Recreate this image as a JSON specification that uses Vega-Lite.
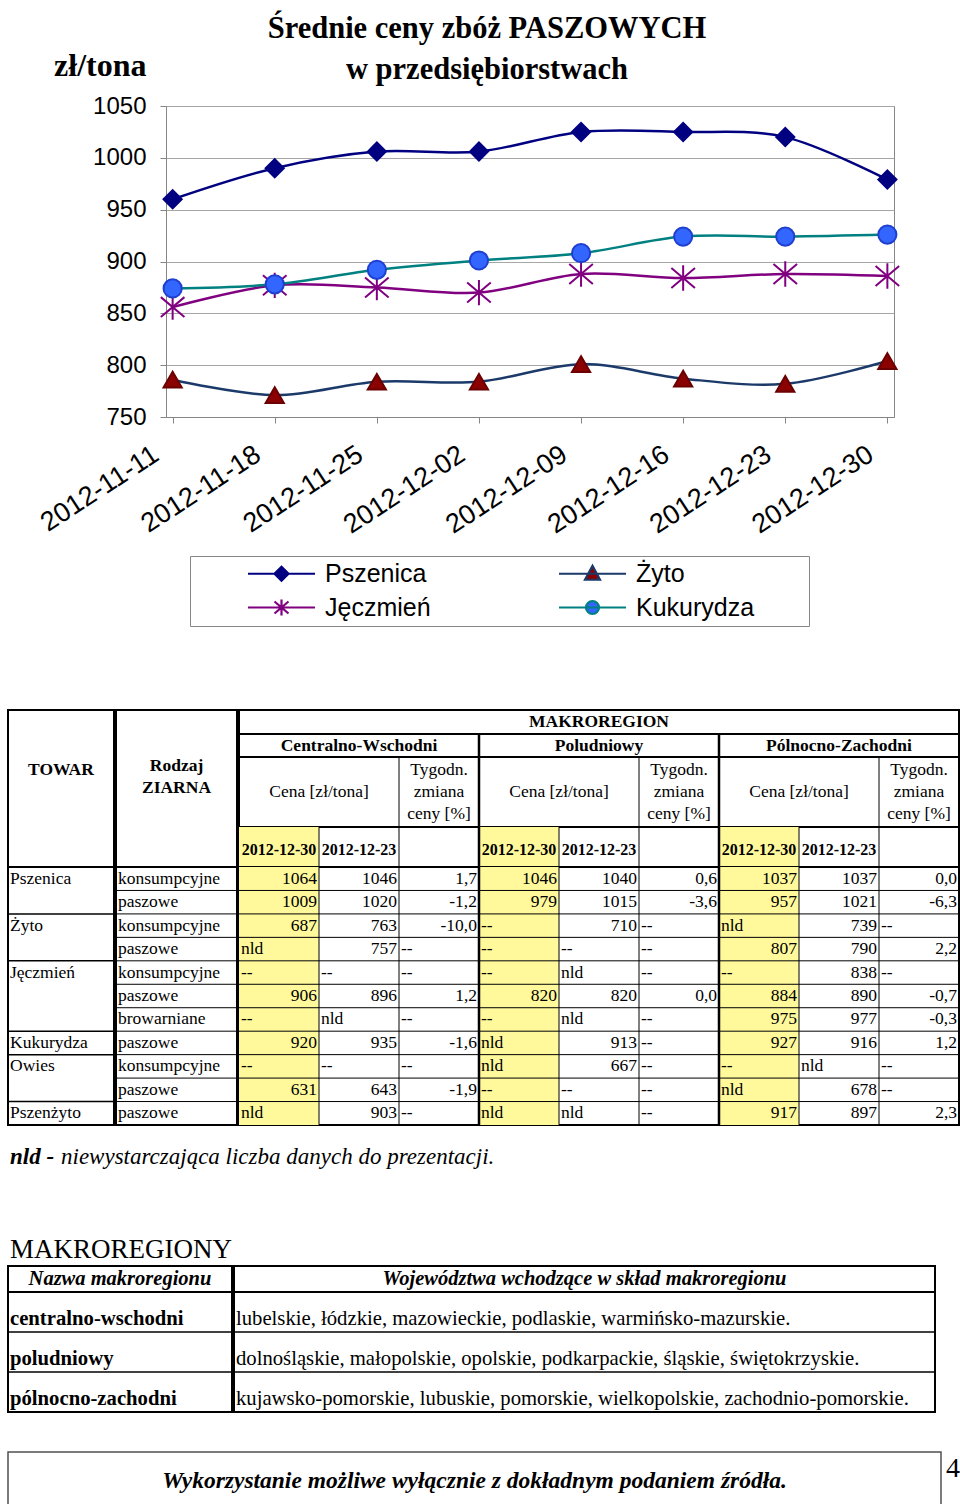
{
  "$schema": "https://vega.github.io/schema/vega-lite/v6.json",
  "background": "white",
  "padding": {"left": 6, "top": 13, "right": 0, "bottom": 0},
  "spacing": 0,
  "config": {
    "view": {"stroke": null},
    "text": {"font": "Liberation Serif", "fontSize": 17.5, "color": "black"},
    "title": {"color": "black"}
  },
  "datasets": {
    "ceny": [
      {"zboze": "Pszenica", "data": "2012-11-11", "cena": 960},
      {"zboze": "Pszenica", "data": "2012-11-18", "cena": 990},
      {"zboze": "Pszenica", "data": "2012-11-25", "cena": 1006},
      {"zboze": "Pszenica", "data": "2012-12-02", "cena": 1006},
      {"zboze": "Pszenica", "data": "2012-12-09", "cena": 1025},
      {"zboze": "Pszenica", "data": "2012-12-16", "cena": 1025},
      {"zboze": "Pszenica", "data": "2012-12-23", "cena": 1020},
      {"zboze": "Pszenica", "data": "2012-12-30", "cena": 979},
      {"zboze": "Żyto", "data": "2012-11-11", "cena": 786},
      {"zboze": "Żyto", "data": "2012-11-18", "cena": 771},
      {"zboze": "Żyto", "data": "2012-11-25", "cena": 784},
      {"zboze": "Żyto", "data": "2012-12-02", "cena": 784},
      {"zboze": "Żyto", "data": "2012-12-09", "cena": 801},
      {"zboze": "Żyto", "data": "2012-12-16", "cena": 787},
      {"zboze": "Żyto", "data": "2012-12-23", "cena": 782},
      {"zboze": "Żyto", "data": "2012-12-30", "cena": 804},
      {"zboze": "Jęczmień", "data": "2012-11-11", "cena": 856},
      {"zboze": "Jęczmień", "data": "2012-11-18", "cena": 877},
      {"zboze": "Jęczmień", "data": "2012-11-25", "cena": 875},
      {"zboze": "Jęczmień", "data": "2012-12-02", "cena": 870},
      {"zboze": "Jęczmień", "data": "2012-12-09", "cena": 888},
      {"zboze": "Jęczmień", "data": "2012-12-16", "cena": 884},
      {"zboze": "Jęczmień", "data": "2012-12-23", "cena": 888},
      {"zboze": "Jęczmień", "data": "2012-12-30", "cena": 886},
      {"zboze": "Kukurydza", "data": "2012-11-11", "cena": 874},
      {"zboze": "Kukurydza", "data": "2012-11-18", "cena": 878},
      {"zboze": "Kukurydza", "data": "2012-11-25", "cena": 892},
      {"zboze": "Kukurydza", "data": "2012-12-02", "cena": 901},
      {"zboze": "Kukurydza", "data": "2012-12-09", "cena": 908},
      {"zboze": "Kukurydza", "data": "2012-12-16", "cena": 924},
      {"zboze": "Kukurydza", "data": "2012-12-23", "cena": 924},
      {"zboze": "Kukurydza", "data": "2012-12-30", "cena": 926}
    ],
    "tabela": [
      {"lp": 1, "towar": "Pszenica", "rodzaj": "konsumpcyjne", "cw30": "1064", "cw23": "1046", "cwz": "1,7", "pd30": "1046", "pd23": "1040", "pdz": "0,6", "pz30": "1037", "pz23": "1037", "pzz": "0,0"},
      {"lp": 2, "towar": "", "rodzaj": "paszowe", "cw30": "1009", "cw23": "1020", "cwz": "-1,2", "pd30": "979", "pd23": "1015", "pdz": "-3,6", "pz30": "957", "pz23": "1021", "pzz": "-6,3"},
      {"lp": 3, "towar": "Żyto", "rodzaj": "konsumpcyjne", "cw30": "687", "cw23": "763", "cwz": "-10,0", "pd30": "--", "pd23": "710", "pdz": "--", "pz30": "nld", "pz23": "739", "pzz": "--"},
      {"lp": 4, "towar": "", "rodzaj": "paszowe", "cw30": "nld", "cw23": "757", "cwz": "--", "pd30": "--", "pd23": "--", "pdz": "--", "pz30": "807", "pz23": "790", "pzz": "2,2"},
      {"lp": 5, "towar": "Jęczmień", "rodzaj": "konsumpcyjne", "cw30": "--", "cw23": "--", "cwz": "--", "pd30": "--", "pd23": "nld", "pdz": "--", "pz30": "--", "pz23": "838", "pzz": "--"},
      {"lp": 6, "towar": "", "rodzaj": "paszowe", "cw30": "906", "cw23": "896", "cwz": "1,2", "pd30": "820", "pd23": "820", "pdz": "0,0", "pz30": "884", "pz23": "890", "pzz": "-0,7"},
      {"lp": 7, "towar": "", "rodzaj": "browarniane", "cw30": "--", "cw23": "nld", "cwz": "--", "pd30": "--", "pd23": "nld", "pdz": "--", "pz30": "975", "pz23": "977", "pzz": "-0,3"},
      {"lp": 8, "towar": "Kukurydza", "rodzaj": "paszowe", "cw30": "920", "cw23": "935", "cwz": "-1,6", "pd30": "nld", "pd23": "913", "pdz": "--", "pz30": "927", "pz23": "916", "pzz": "1,2"},
      {"lp": 9, "towar": "Owies", "rodzaj": "konsumpcyjne", "cw30": "--", "cw23": "--", "cwz": "--", "pd30": "nld", "pd23": "667", "pdz": "--", "pz30": "--", "pz23": "nld", "pzz": "--"},
      {"lp": 10, "towar": "", "rodzaj": "paszowe", "cw30": "631", "cw23": "643", "cwz": "-1,9", "pd30": "--", "pd23": "--", "pdz": "--", "pz30": "nld", "pz23": "678", "pzz": "--"},
      {"lp": 11, "towar": "Pszenżyto", "rodzaj": "paszowe", "cw30": "nld", "cw23": "903", "cwz": "--", "pd30": "nld", "pd23": "nld", "pdz": "--", "pz30": "917", "pz23": "897", "pzz": "2,3"}
    ],
    "kolumny": [
      {"kol": "cw30", "naglowek": "2012-12-30"},
      {"kol": "cw23", "naglowek": "2012-12-23"},
      {"kol": "cwz", "naglowek": ""},
      {"kol": "pd30", "naglowek": "2012-12-30"},
      {"kol": "pd23", "naglowek": "2012-12-23"},
      {"kol": "pdz", "naglowek": ""},
      {"kol": "pz30", "naglowek": "2012-12-30"},
      {"kol": "pz23", "naglowek": "2012-12-23"},
      {"kol": "pzz", "naglowek": ""}
    ],
    "regiony": [
      {"region": "Centralno-Wschodni"},
      {"region": "Poludniowy"},
      {"region": "Pólnocno-Zachodni"}
    ],
    "makro": [
      {"lp": 1, "nazwa": "centralno-wschodni", "woj": "lubelskie, łódzkie, mazowieckie, podlaskie, warmińsko-mazurskie."},
      {"lp": 2, "nazwa": "poludniowy", "woj": "dolnośląskie, małopolskie, opolskie, podkarpackie, śląskie, świętokrzyskie."},
      {"lp": 3, "nazwa": "pólnocno-zachodni", "woj": "kujawsko-pomorskie, lubuskie, pomorskie, wielkopolskie, zachodnio-pomorskie."}
    ]
  },
  "vconcat": [
    {
      "hconcat": [
        {"width": 27, "height": 10, "data": {"values": [{"a": 1}]}, "mark": {"type": "text", "text": ""}, "encoding": {}},
        {
          "width": 728,
          "height": 311,
          "view": {"stroke": "#868686", "strokeWidth": 1},
          "data": {"name": "ceny"},
          "title": {"text": ["Średnie ceny zbóż PASZOWYCH", "w przedsiębiorstwach"], "font": "Liberation Serif", "fontSize": 30.5, "fontWeight": "bold", "color": "black", "anchor": "middle", "dx": -43, "dy": 52, "offset": 16, "lineHeight": 41},
          "encoding": {
            "x": {"field": "data", "type": "ordinal", "scale": {"type": "point", "padding": 0.065},
              "axis": {"title": null, "labelAngle": -33, "labelFont": "Liberation Sans", "labelFontSize": 27, "labelColor": "black", "labelPadding": 18, "labelOffset": -24, "tickSize": 6, "tickColor": "#868686", "domainColor": "#868686", "grid": false, "labelOverlap": false}},
            "y": {"field": "cena", "type": "quantitative", "scale": {"domain": [750, 1050], "nice": false, "zero": false},
              "axis": {"values": [750, 800, 850, 900, 950, 1000, 1050], "format": "d", "title": "zł/tona", "titleAngle": 0, "titleAlign": "right", "titleBaseline": "alphabetic", "titleX": -20, "titleY": -31, "titleFont": "Liberation Serif", "titleFontSize": 32, "titleFontWeight": "bold", "titleColor": "black", "labelFont": "Liberation Sans", "labelFontSize": 24, "labelColor": "black", "labelPadding": 14, "tickSize": 6, "tickColor": "#868686", "domainColor": "#868686", "gridColor": "#a6a6a6"}}
          },
          "layer": [
            {
              "mark": {"type": "line", "interpolate": "cardinal", "strokeWidth": 2.5},
              "encoding": {
                "color": {"field": "zboze", "type": "nominal",
                  "scale": {"domain": ["Pszenica", "Żyto", "Jęczmień", "Kukurydza"], "range": ["#000080", "#1b3a6a", "#800080", "#008080"]},
                  "legend": {
                    "orient": "none", "legendX": 182, "legendY": 450, "direction": "horizontal",
                    "title": "MM", "titleOrient": "right", "titleFont": "Liberation Sans", "titleFontSize": 25, "titleColor": "transparent", "titlePadding": 8,
                    "columns": 2, "columnPadding": 75, "rowPadding": 8,
                    "labelFont": "Liberation Sans", "labelFontSize": 25, "labelColor": "black", "labelOffset": 105, "labelLimit": 400,
                    "symbolSize": 400, "symbolStrokeWidth": 2.2, "symbolType": "M4.05,0L10.75,0",
                    "strokeColor": "#868686", "padding": 5,
                    "encode": {
                      "symbols": {
                        "update": {
                          "shape": {"signal": "datum.value === 'Pszenica' ? 'M4.05,0L10.75,0M7.4,-0.7L8.1,0L7.4,0.7L6.7,0Z' : datum.value === 'Żyto' ? 'M4.05,0L10.75,0M7.4,-0.8L8.15,0.6L6.65,0.6Z' : datum.value === 'Jęczmień' ? 'M4.05,0L10.75,0M7.4,-0.8L7.4,0.8M6.7,-0.6L8.1,0.6M6.7,0.6L8.1,-0.6' : 'M4.05,0L10.75,0M8.05,0A0.65,0.65,0,1,1,6.75,0A0.65,0.65,0,1,1,8.05,0Z'"},
                          "fill": {"signal": "datum.value === 'Pszenica' ? '#000080' : datum.value === 'Żyto' ? '#8b0000' : datum.value === 'Jęczmień' ? 'transparent' : '#3366ff'"}
                        }
                      }
                    }
                  }
                }
              }
            },
            {
              "mark": {"type": "point", "opacity": 1, "size": 330, "strokeWidth": 2},
              "encoding": {
                "shape": {"field": "zboze", "type": "nominal", "legend": null,
                  "scale": {"range": ["M0,-1.4L0,1.4M-1.3,-1.1L1.3,1.1M-1.3,1.1L1.3,-1.1", "circle", "diamond", "triangle-up"]}},
                "fill": {"field": "zboze", "type": "nominal", "legend": null,
                  "scale": {"range": ["transparent", "#3366ff", "#000080", "#8b0000"]}},
                "stroke": {"field": "zboze", "type": "nominal", "legend": null,
                  "scale": {"range": ["#800080", "#1f3fd0", "#000080", "#6b0000"]}}
              }
            }
          ]
        }
      ],
      "spacing": 0
    },
    {"width": 10, "height": 170, "data": {"values": [{"a": 1}]}, "mark": {"type": "text", "text": ""}, "encoding": {}},
    {
      "hconcat": [
        {
          "vconcat": [
            {"width": 106, "height": 157, "view": {"stroke": "black", "strokeWidth": 2}, "data": {"values": [{"t": "TOWAR"}]},
              "mark": {"type": "text", "fontWeight": "bold", "baseline": "middle", "dy": -19}, "encoding": {"text": {"field": "t"}}},
            {"width": 106, "height": 258, "view": {"stroke": "black", "strokeWidth": 2}, "data": {"name": "tabela"},
              "layer": [
                {"transform": [{"filter": "datum.towar !== '' && datum.lp > 1"}], "mark": {"type": "rule", "color": "black", "strokeWidth": 1.5},
                  "encoding": {"y": {"field": "lp", "type": "ordinal", "bandPosition": 0, "axis": null, "scale": {"type": "band", "paddingInner": 0, "paddingOuter": 0}}}},
                {"mark": {"type": "text", "align": "left", "baseline": "middle", "dx": 2},
                  "encoding": {"x": {"value": 0}, "y": {"field": "lp", "type": "ordinal", "bandPosition": 0.5, "axis": null, "scale": {"type": "band", "paddingInner": 0, "paddingOuter": 0}}, "text": {"field": "towar"}}}
              ]}
          ],
          "spacing": 0,
          "bounds": "flush"
        },
        {
          "vconcat": [
            {"width": 121, "height": 157, "view": {"stroke": "black", "strokeWidth": 2}, "data": {"values": [{"t": "Rodzaj\nZIARNA"}]},
              "mark": {"type": "text", "fontWeight": "bold", "baseline": "middle", "lineBreak": "\n", "lineHeight": 22, "dy": -23}, "encoding": {"text": {"field": "t"}}},
            {"width": 121, "height": 258, "view": {"stroke": "black", "strokeWidth": 2}, "data": {"name": "tabela"},
              "layer": [
                {"transform": [{"filter": "datum.lp > 1"}], "mark": {"type": "rule", "color": "black", "strokeWidth": 1},
                  "encoding": {"y": {"field": "lp", "type": "ordinal", "bandPosition": 0, "axis": null, "scale": {"type": "band", "paddingInner": 0, "paddingOuter": 0}}}},
                {"mark": {"type": "text", "align": "left", "baseline": "middle", "dx": 2},
                  "encoding": {"x": {"value": 0}, "y": {"field": "lp", "type": "ordinal", "bandPosition": 0.5, "axis": null, "scale": {"type": "band", "paddingInner": 0, "paddingOuter": 0}}, "text": {"field": "rodzaj"}}}
              ]}
          ],
          "spacing": 0,
          "bounds": "flush"
        },
        {
          "vconcat": [
            {"width": 720, "height": 24, "view": {"stroke": "black", "strokeWidth": 2}, "data": {"values": [{"t": "MAKROREGION"}]},
              "mark": {"type": "text", "fontWeight": "bold", "baseline": "middle"}, "encoding": {"text": {"field": "t"}}},
            {"width": 720, "height": 23, "view": {"stroke": "black", "strokeWidth": 2}, "data": {"name": "regiony"},
              "layer": [
                {"transform": [{"filter": "datum.region !== 'Centralno-Wschodni'"}], "mark": {"type": "rule", "color": "black", "strokeWidth": 2.5},
                  "encoding": {"x": {"field": "region", "type": "nominal", "bandPosition": 0, "axis": null, "scale": {"type": "band", "domain": ["Centralno-Wschodni", "Poludniowy", "Pólnocno-Zachodni"], "paddingInner": 0, "paddingOuter": 0}}}},
                {"mark": {"type": "text", "fontWeight": "bold", "baseline": "middle"},
                  "encoding": {"x": {"field": "region", "type": "nominal", "bandPosition": 0.5, "axis": null, "scale": {"type": "band", "domain": ["Centralno-Wschodni", "Poludniowy", "Pólnocno-Zachodni"], "paddingInner": 0, "paddingOuter": 0}}, "text": {"field": "region"}}}
              ]},
            {"width": 720, "height": 70, "view": {"stroke": "black", "strokeWidth": 2}, "data": {"name": "kolumny"},
              "layer": [
                {"transform": [{"filter": "indexof(['cwz','pdz','pzz'], datum.kol) >= 0"}], "mark": {"type": "rule", "color": "black", "strokeWidth": 1},
                  "encoding": {"x": {"field": "kol", "type": "nominal", "bandPosition": 0, "axis": null, "scale": {"type": "band", "domain": ["cw30", "cw23", "cwz", "pd30", "pd23", "pdz", "pz30", "pz23", "pzz"], "paddingInner": 0, "paddingOuter": 0}}}},
                {"transform": [{"filter": "indexof(['pd30','pz30'], datum.kol) >= 0"}], "mark": {"type": "rule", "color": "black", "strokeWidth": 2.5},
                  "encoding": {"x": {"field": "kol", "type": "nominal", "bandPosition": 0, "axis": null, "scale": {"type": "band", "domain": ["cw30", "cw23", "cwz", "pd30", "pd23", "pdz", "pz30", "pz23", "pzz"], "paddingInner": 0, "paddingOuter": 0}}}},
                {"transform": [{"filter": "indexof(['cw23','pd23','pz23'], datum.kol) >= 0"}], "mark": {"type": "text", "baseline": "middle"},
                  "encoding": {"x": {"field": "kol", "type": "nominal", "bandPosition": 0, "axis": null, "scale": {"type": "band", "domain": ["cw30", "cw23", "cwz", "pd30", "pd23", "pdz", "pz30", "pz23", "pzz"], "paddingInner": 0, "paddingOuter": 0}}, "text": {"value": "Cena [zł/tona]"}}},
                {"transform": [{"filter": "indexof(['cwz','pdz','pzz'], datum.kol) >= 0"}], "mark": {"type": "text", "baseline": "middle", "lineHeight": 22, "dy": -22},
                  "encoding": {"x": {"field": "kol", "type": "nominal", "bandPosition": 0.5, "axis": null, "scale": {"type": "band", "domain": ["cw30", "cw23", "cwz", "pd30", "pd23", "pdz", "pz30", "pz23", "pzz"], "paddingInner": 0, "paddingOuter": 0}}, "text": {"value": ["Tygodn.", "zmiana", "ceny [%]"]}}}
              ]},
            {"width": 720, "height": 40, "view": {"stroke": "black", "strokeWidth": 2}, "data": {"name": "kolumny"},
              "layer": [
                {"transform": [{"filter": "indexof(['cw30','pd30','pz30'], datum.kol) >= 0"}], "mark": {"type": "rect", "fill": "#fff99c"},
                  "encoding": {"x": {"field": "kol", "type": "nominal", "axis": null, "scale": {"type": "band", "domain": ["cw30", "cw23", "cwz", "pd30", "pd23", "pdz", "pz30", "pz23", "pzz"], "paddingInner": 0, "paddingOuter": 0}}}},
                {"transform": [{"filter": "indexof(['cw23','cwz','pd23','pdz','pz23','pzz'], datum.kol) >= 0"}], "mark": {"type": "rule", "color": "black", "strokeWidth": 1},
                  "encoding": {"x": {"field": "kol", "type": "nominal", "bandPosition": 0, "axis": null, "scale": {"type": "band", "domain": ["cw30", "cw23", "cwz", "pd30", "pd23", "pdz", "pz30", "pz23", "pzz"], "paddingInner": 0, "paddingOuter": 0}}}},
                {"transform": [{"filter": "indexof(['pd30','pz30'], datum.kol) >= 0"}], "mark": {"type": "rule", "color": "black", "strokeWidth": 2.5},
                  "encoding": {"x": {"field": "kol", "type": "nominal", "bandPosition": 0, "axis": null, "scale": {"type": "band", "domain": ["cw30", "cw23", "cwz", "pd30", "pd23", "pdz", "pz30", "pz23", "pzz"], "paddingInner": 0, "paddingOuter": 0}}}},
                {"transform": [{"filter": "datum.naglowek !== ''"}], "mark": {"type": "text", "fontWeight": "bold", "fontSize": 16, "baseline": "middle", "dy": 3},
                  "encoding": {"x": {"field": "kol", "type": "nominal", "bandPosition": 0.5, "axis": null, "scale": {"type": "band", "domain": ["cw30", "cw23", "cwz", "pd30", "pd23", "pdz", "pz30", "pz23", "pzz"], "paddingInner": 0, "paddingOuter": 0}}, "text": {"field": "naglowek"}}}
              ]},
            {"width": 720, "height": 258, "view": {"stroke": "black", "strokeWidth": 2}, "data": {"name": "tabela"},
              "transform": [{"fold": ["cw30", "cw23", "cwz", "pd30", "pd23", "pdz", "pz30", "pz23", "pzz"], "as": ["kol", "wartosc"]}],
              "layer": [
                {"transform": [{"filter": "indexof(['cw30','pd30','pz30'], datum.kol) >= 0"}], "mark": {"type": "rect", "fill": "#fff99c"},
                  "encoding": {
                    "x": {"field": "kol", "type": "nominal", "axis": null, "scale": {"type": "band", "domain": ["cw30", "cw23", "cwz", "pd30", "pd23", "pdz", "pz30", "pz23", "pzz"], "paddingInner": 0, "paddingOuter": 0}},
                    "y": {"field": "lp", "type": "ordinal", "axis": null, "scale": {"type": "band", "paddingInner": 0, "paddingOuter": 0}}}},
                {"transform": [{"filter": "datum.lp > 1 && datum.kol === 'cw30'"}], "mark": {"type": "rule", "color": "black", "strokeWidth": 1},
                  "encoding": {"y": {"field": "lp", "type": "ordinal", "bandPosition": 0, "axis": null, "scale": {"type": "band", "paddingInner": 0, "paddingOuter": 0}}}},
                {"transform": [{"filter": "datum.lp === 1 && indexof(['cw23','cwz','pd23','pdz','pz23','pzz'], datum.kol) >= 0"}], "mark": {"type": "rule", "color": "black", "strokeWidth": 1},
                  "encoding": {"x": {"field": "kol", "type": "nominal", "bandPosition": 0, "axis": null, "scale": {"type": "band", "domain": ["cw30", "cw23", "cwz", "pd30", "pd23", "pdz", "pz30", "pz23", "pzz"], "paddingInner": 0, "paddingOuter": 0}}}},
                {"transform": [{"filter": "datum.lp === 1 && indexof(['pd30','pz30'], datum.kol) >= 0"}], "mark": {"type": "rule", "color": "black", "strokeWidth": 2.5},
                  "encoding": {"x": {"field": "kol", "type": "nominal", "bandPosition": 0, "axis": null, "scale": {"type": "band", "domain": ["cw30", "cw23", "cwz", "pd30", "pd23", "pdz", "pz30", "pz23", "pzz"], "paddingInner": 0, "paddingOuter": 0}}}},
                {"transform": [{"filter": "test(/^-?[0-9]/, datum.wartosc)"}], "mark": {"type": "text", "align": "right", "baseline": "middle", "dx": -2},
                  "encoding": {
                    "x": {"field": "kol", "type": "nominal", "bandPosition": 1, "axis": null, "scale": {"type": "band", "domain": ["cw30", "cw23", "cwz", "pd30", "pd23", "pdz", "pz30", "pz23", "pzz"], "paddingInner": 0, "paddingOuter": 0}},
                    "y": {"field": "lp", "type": "ordinal", "bandPosition": 0.5, "axis": null, "scale": {"type": "band", "paddingInner": 0, "paddingOuter": 0}},
                    "text": {"field": "wartosc"}}},
                {"transform": [{"filter": "!test(/^-?[0-9]/, datum.wartosc)"}], "mark": {"type": "text", "align": "left", "baseline": "middle", "dx": 2},
                  "encoding": {
                    "x": {"field": "kol", "type": "nominal", "bandPosition": 0, "axis": null, "scale": {"type": "band", "domain": ["cw30", "cw23", "cwz", "pd30", "pd23", "pdz", "pz30", "pz23", "pzz"], "paddingInner": 0, "paddingOuter": 0}},
                    "y": {"field": "lp", "type": "ordinal", "bandPosition": 0.5, "axis": null, "scale": {"type": "band", "paddingInner": 0, "paddingOuter": 0}},
                    "text": {"field": "wartosc"}}}
              ]}
          ],
          "spacing": 0,
          "bounds": "flush"
        }
      ],
      "spacing": -4
    },
    {"width": 950, "height": 58, "data": {"values": [{"a": "nld -", "b": "niewystarczająca liczba danych do prezentacji."}]},
      "layer": [
        {"mark": {"type": "text", "align": "left", "baseline": "middle", "fontSize": 23, "fontStyle": "italic", "fontWeight": "bold"}, "encoding": {"x": {"value": 2}, "text": {"field": "a"}}},
        {"mark": {"type": "text", "align": "left", "baseline": "middle", "fontSize": 23, "fontStyle": "italic"}, "encoding": {"x": {"value": 53}, "text": {"field": "b"}}}
      ]},
    {"width": 950, "height": 79, "data": {"values": [{"t": "MAKROREGIONY"}]},
      "mark": {"type": "text", "align": "left", "baseline": "alphabetic", "fontSize": 27, "dy": 32}, "encoding": {"x": {"value": 2}, "text": {"field": "t"}}},
    {
      "hconcat": [
        {"vconcat": [
          {"width": 224, "height": 26, "view": {"stroke": "black", "strokeWidth": 2}, "data": {"values": [{"t": "Nazwa makroregionu"}]},
            "mark": {"type": "text", "baseline": "middle", "fontSize": 20.5, "fontStyle": "italic", "fontWeight": "bold"}, "encoding": {"text": {"field": "t"}}},
          {"width": 224, "height": 120, "view": {"stroke": "black", "strokeWidth": 2}, "data": {"name": "makro"},
            "layer": [
              {"transform": [{"filter": "datum.lp > 1"}], "mark": {"type": "rule", "color": "black", "strokeWidth": 1.5},
                "encoding": {"y": {"field": "lp", "type": "ordinal", "bandPosition": 0, "axis": null, "scale": {"type": "band", "paddingInner": 0, "paddingOuter": 0}}}},
              {"mark": {"type": "text", "align": "left", "baseline": "alphabetic", "fontSize": 20.7, "fontWeight": "bold", "dx": 2, "dy": -7},
                "encoding": {"x": {"value": 0}, "y": {"field": "lp", "type": "ordinal", "bandPosition": 1, "axis": null, "scale": {"type": "band", "paddingInner": 0, "paddingOuter": 0}}, "text": {"field": "nazwa"}}}
            ]}
        ], "spacing": 0, "bounds": "flush"},
        {"vconcat": [
          {"width": 701, "height": 26, "view": {"stroke": "black", "strokeWidth": 2}, "data": {"values": [{"t": "Województwa wchodzące w skład makroregionu"}]},
            "mark": {"type": "text", "baseline": "middle", "fontSize": 20.5, "fontStyle": "italic", "fontWeight": "bold"}, "encoding": {"text": {"field": "t"}}},
          {"width": 701, "height": 120, "view": {"stroke": "black", "strokeWidth": 2}, "data": {"name": "makro"},
            "layer": [
              {"transform": [{"filter": "datum.lp > 1"}], "mark": {"type": "rule", "color": "black", "strokeWidth": 1.5},
                "encoding": {"y": {"field": "lp", "type": "ordinal", "bandPosition": 0, "axis": null, "scale": {"type": "band", "paddingInner": 0, "paddingOuter": 0}}}},
              {"mark": {"type": "text", "align": "left", "baseline": "alphabetic", "fontSize": 20.7, "dx": 2, "dy": -7},
                "encoding": {"x": {"value": 0}, "y": {"field": "lp", "type": "ordinal", "bandPosition": 1, "axis": null, "scale": {"type": "band", "paddingInner": 0, "paddingOuter": 0}}, "text": {"field": "woj"}}}
            ]}
        ], "spacing": 0, "bounds": "flush"}
      ],
      "spacing": -4
    },
    {"width": 10, "height": 38, "data": {"values": [{"a": 1}]}, "mark": {"type": "text", "text": ""}, "encoding": {}},
    {
      "hconcat": [
        {"width": 933, "height": 56, "view": {"stroke": "#505050", "strokeWidth": 1.5}, "data": {"values": [{"t": "Wykorzystanie możliwe wyłącznie z dokładnym podaniem źródła."}]},
          "mark": {"type": "text", "baseline": "middle", "fontSize": 23.5, "fontStyle": "italic", "fontWeight": "bold", "dy": 1}, "encoding": {"text": {"field": "t"}}},
        {"width": 24, "height": 56, "data": {"values": [{"t": "4"}]},
          "mark": {"type": "text", "baseline": "middle", "fontSize": 28, "dy": -11}, "encoding": {"text": {"field": "t"}}}
      ],
      "spacing": 0,
      "bounds": "flush"
    }
  ]
}
